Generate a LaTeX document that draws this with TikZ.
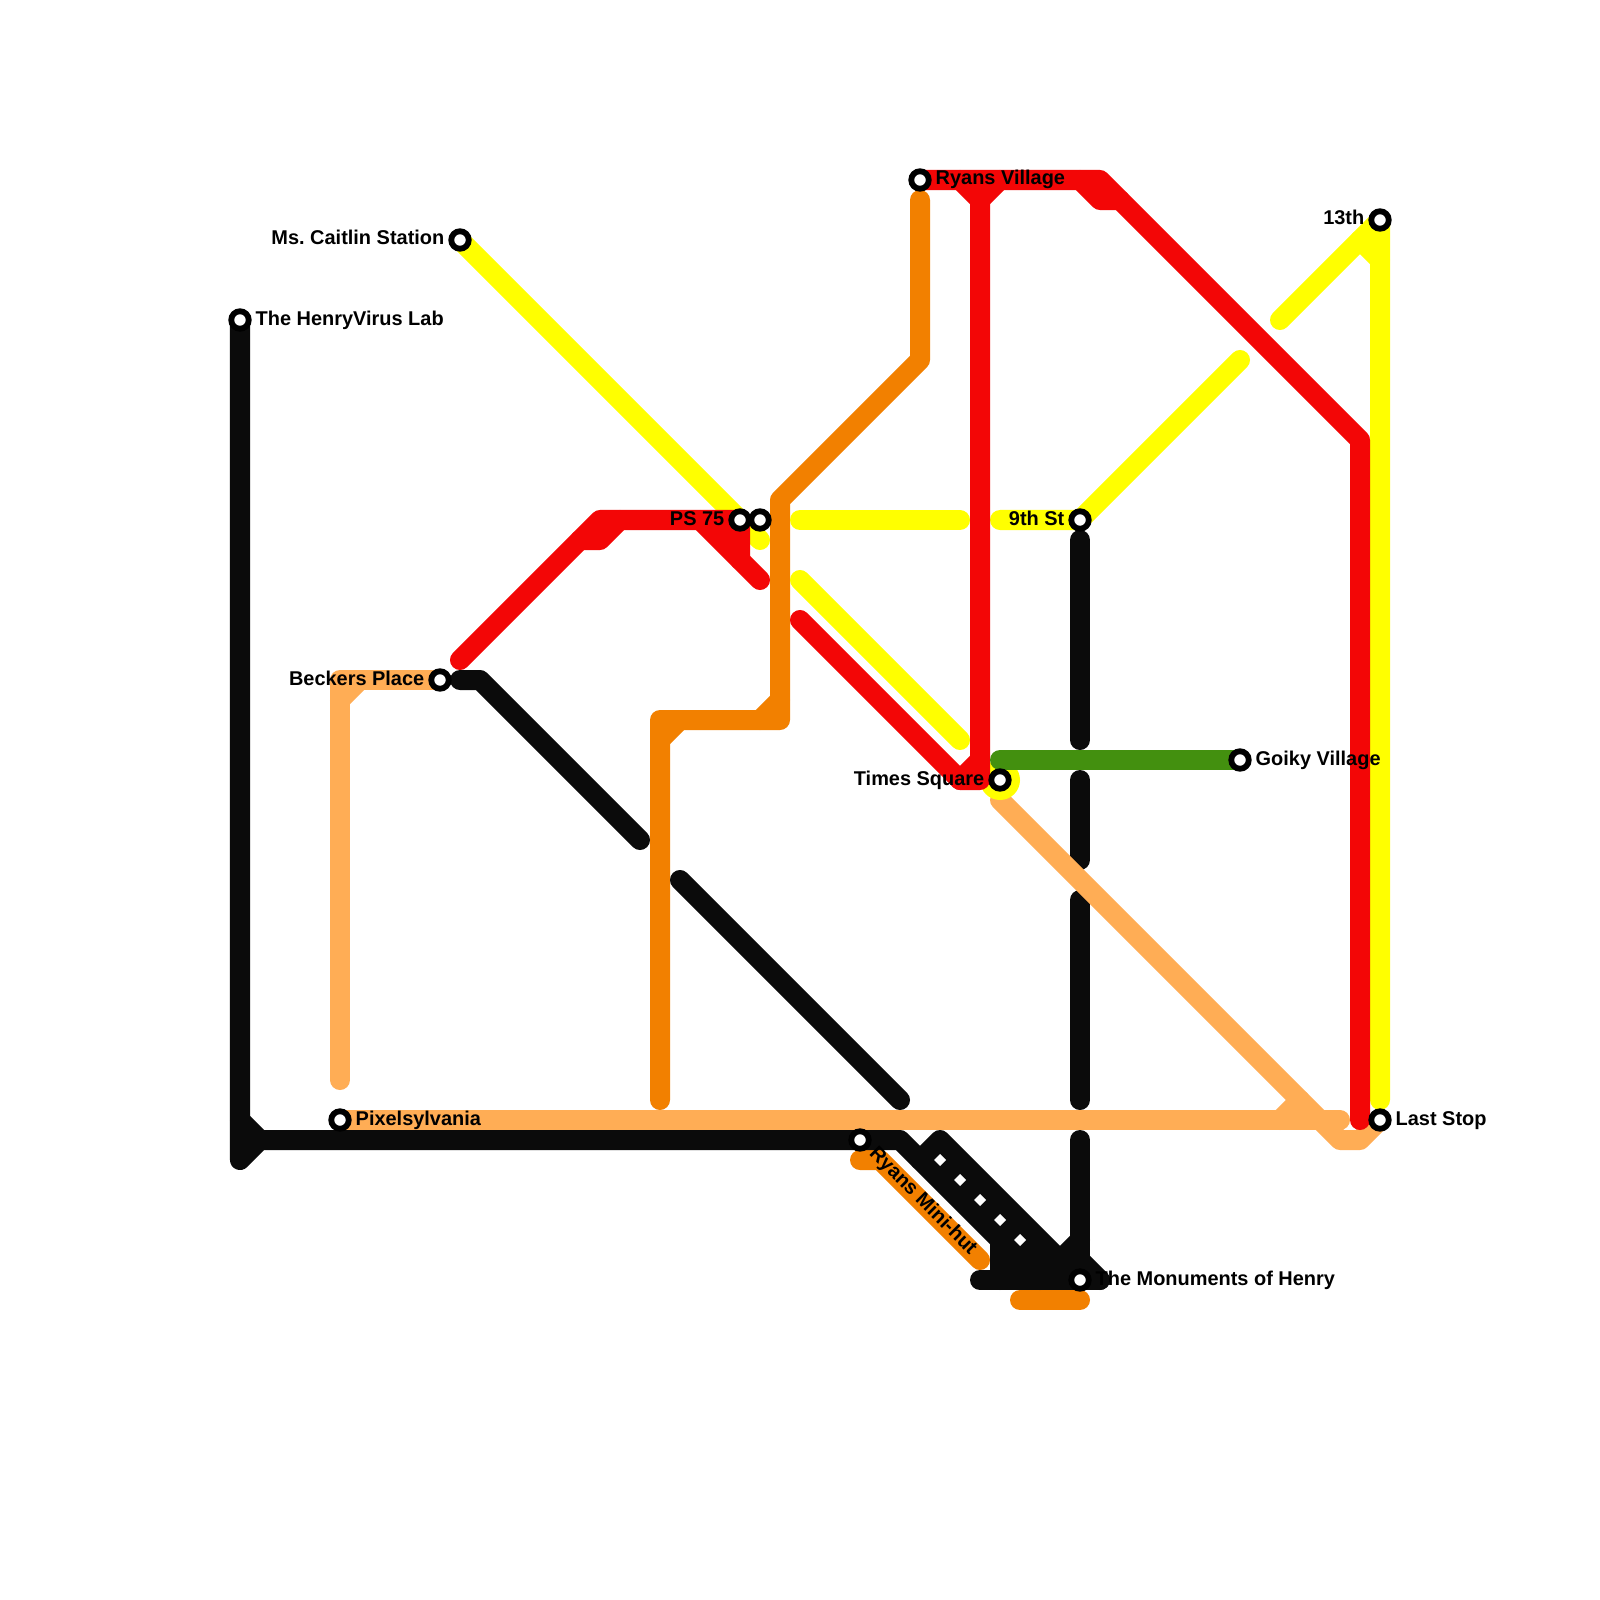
\documentclass[tikz,border=0pt]{standalone}
\usepackage{fontspec}
\setmainfont{Liberation Sans}
\frenchspacing
\definecolor{lnblack}{HTML}{0B0B0B}
\definecolor{lnred}{HTML}{F30606}
\definecolor{lnorange}{HTML}{F28000}
\definecolor{lnlight}{HTML}{FFAD55}
\definecolor{lnyellow}{HTML}{FFFF00}
\definecolor{lngreen}{HTML}{43900F}
\tikzset{
  metro/.style={line width=0.2cm,line cap=round,line join=round},
  blk/.style={metro,draw=lnblack},
  rd/.style={metro,draw=lnred},
  org/.style={metro,draw=lnorange},
  lgt/.style={metro,draw=lnlight},
  yel/.style={metro,draw=lnyellow},
  grn/.style={metro,draw=lngreen},
  station/.style={circle,draw=black,fill=white,line width=0.058cm,minimum size=0.175cm,inner sep=0pt},
  lab/.style={font=\bfseries\fontsize{5.67pt}{6pt}\selectfont,text=black,inner sep=0pt},
}
\begin{document}
\begin{tikzpicture}[x=0.01cm,y=-0.01cm]
\useasboundingbox (0,0) rectangle (1600,1600);
\fill[white] (0,0) rectangle (1600,1600);
% station positions
\coordinate (henry) at (240,320);
\coordinate (caitlin) at (460,240);
\coordinate (village) at (920,180);
\coordinate (thirteen) at (1380,220);
\coordinate (psa) at (740,520);
\coordinate (psb) at (760,520);
\coordinate (ninth) at (1080,520);
\coordinate (beckers) at (440,680);
\coordinate (times) at (1000,780);
\coordinate (goiky) at (1240,760);
\coordinate (pixel) at (340,1120);
\coordinate (hut) at (860,1140);
\coordinate (last) at (1380,1120);
\coordinate (monu) at (1080,1280);
% black verticals, under the light orange line
\draw[blk] (1080,780) -- (1080,860);
\draw[blk] (1080,900) -- (1080,1100);
% light orange
\draw[lgt] (beckers) -- (340,680) -- (340,1080);
\draw[lgt] (340,700) -- (360,680);
\draw[lgt] (pixel) -- (1340,1120);
\draw[lgt] (1280,1120) -- (1300,1100);
\draw[lgt] (1000,800) -- (1340,1140) -- (1360,1140) -- (last);
% orange
\draw[org] (920,200) -- (920,360) -- (780,500) -- (780,720) -- (660,720) -- (660,1100);
\draw[org] (780,700) -- (760,720);
\draw[org] (660,740) -- (680,720);
\draw[org] (860,1160) -- (880,1160) -- (980,1260);
\draw[org] (1020,1300) -- (1080,1300);
% yellow
\draw[yel] (caitlin) -- (psb |- 0,540);
\draw[yel] (800,520) -- (960,520);
\draw[yel] (1000,520) -- (ninth) -- (1240,360);
\draw[yel] (1280,320) -- (thirteen) -- (1380,1100);
\draw[yel] (1360,240) -- (1380,260);
\draw[yel] (800,580) -- (960,740);
\fill[lnyellow] (times) circle (0.2cm);
% red
\draw[rd] (460,660) -- (600,520) -- (psa) -- (740,560);
\draw[rd] (580,540) -- (600,540) -- (620,520);
\draw[rd] (700,520) -- (760,580);
\fill[lnred] (700,520) -- (740,520) -- (740,560) -- cycle;
\draw[rd] (800,620) -- (960,780) -- (980,780) -- (980,200);
\draw[rd] (980,760) -- (960,780);
\draw[rd] (village) -- (1100,180) -- (1360,440) -- (1360,1120);
\draw[rd] (960,180) -- (980,200) -- (1000,180);
\draw[rd] (1080,180) -- (1100,200) -- (1120,200);
% green
\draw[grn] (1000,760) -- (goiky);
% black
\draw[blk] (henry) -- (240,1160) -- (260,1140) -- (hut) -- (900,1140) -- (1020,1260);
\draw[blk] (240,1120) -- (260,1140);
\draw[blk] (920,1160) -- (940,1140) -- (1080,1280);
\draw[blk,line width=0.1cm,line cap=butt] (930,1150) -- (1040,1260);
\fill[lnblack] (1000,1235) -- (1040,1235) -- (1080,1270) -- (1080,1285) -- (1000,1285) -- cycle;
\draw[blk] (1000,1240) -- (1000,1280);
\draw[blk] (980,1280) -- (1100,1280);
\draw[blk] (1080,1260) -- (1100,1280);
\draw[blk] (1080,1240) -- (1040,1280);
\draw[blk] (1080,1140) -- (monu);
\draw[blk] (1080,540) -- (1080,740);
\draw[blk] (beckers) ++(20,0) -- (480,680) -- (640,840);
\draw[blk] (680,880) -- (900,1100);
\foreach \dx in {940,960,980,1000,1020}
  \fill[white] (\dx-6,\dx+220) -- (\dx,\dx+214) -- (\dx+6,\dx+220) -- (\dx,\dx+226) -- cycle;
% stations
\foreach \s in {henry,caitlin,village,thirteen,psa,psb,ninth,beckers,times,goiky,pixel,hut,last,monu}
  \node[station] (st-\s) at (\s) {};
% labels
\node[lab,anchor=base west] (l-henry) at (255,325) {The HenryVirus Lab};
\node[lab,anchor=base east] (l-caitlin) at (445,245) {Ms. Caitlin Station};
\node[lab,anchor=base west] (l-village) at (935,185) {Ryans Village};
\node[lab,anchor=base east] (l-thirteen) at (1365,225) {13th};
\node[lab,anchor=base east] (l-ps) at (725,525) {PS 75};
\node[lab,anchor=base east] (l-ninth) at (1065,525) {9th St};
\node[lab,anchor=base east] (l-beckers) at (425,685) {Beckers Place};
\node[lab,anchor=base east] (l-times) at (985,785) {Times Square};
\node[lab,anchor=base west] (l-goiky) at (1255,765) {Goiky Village};
\node[lab,anchor=base west] (l-pixel) at (355,1125) {Pixelsylvania};
\node[lab,anchor=base west,rotate=-45] (l-hut) at (868,1154) {Ryans Mini-hut};
\node[lab,anchor=base west] (l-last) at (1395,1125) {Last Stop};
\node[lab,anchor=base west] (l-monu) at (1095,1285) {The Monuments of Henry};
\end{tikzpicture}
\end{document}
